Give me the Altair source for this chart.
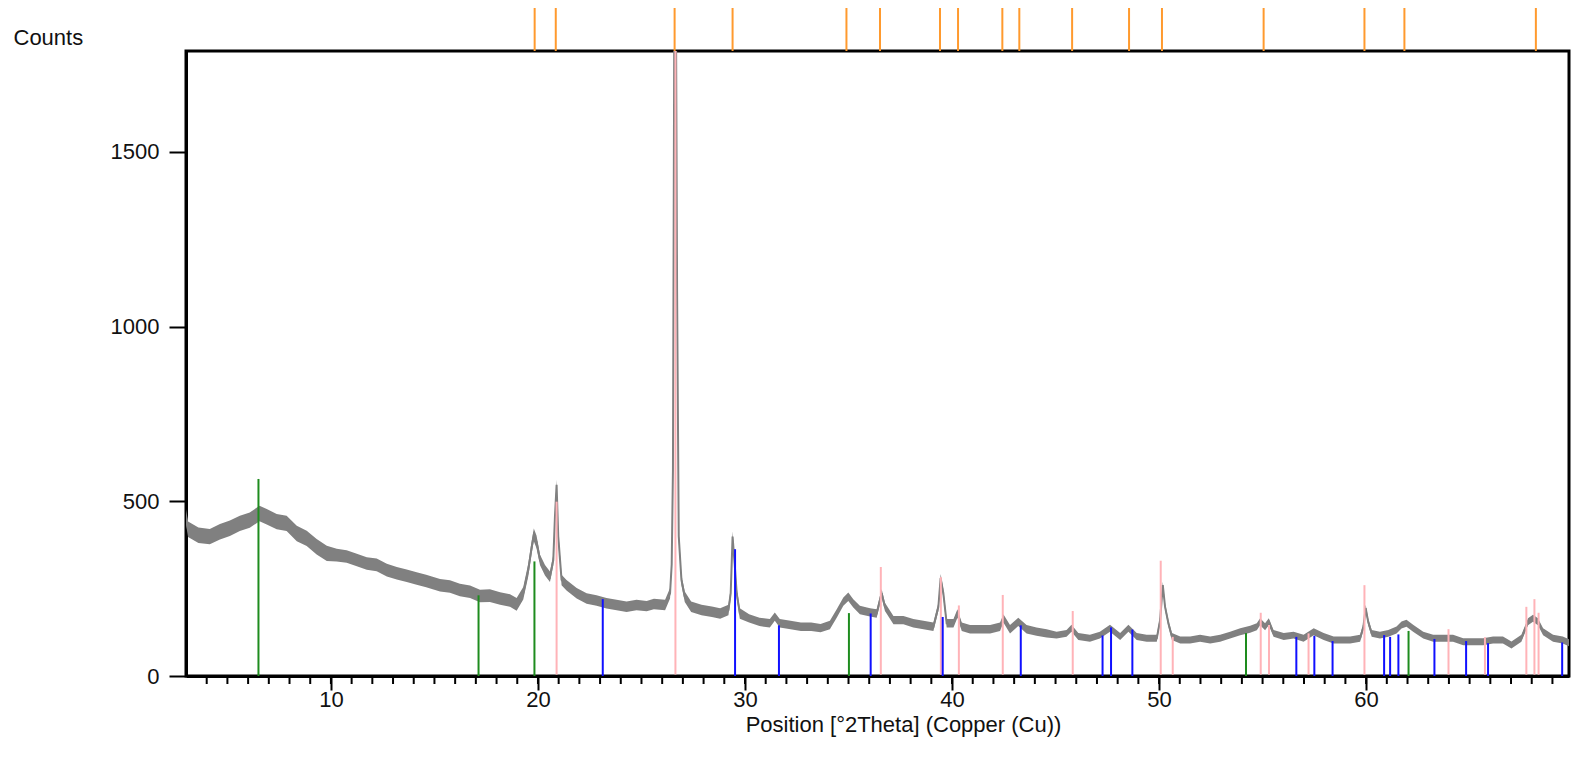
import altair as alt
import pandas as pd

# ---------------- data ----------------
theta = [3.0, 3.1, 3.6, 4.15, 4.64, 5.12, 5.6, 6.08, 6.55, 6.9, 7.38, 7.86, 8.35, 8.83,
         9.31, 9.8, 10.28, 10.76, 11.25, 11.73, 12.21, 12.7, 13.18, 13.66, 14.14, 14.6,
         15.27, 15.75, 16.23, 16.72, 17.2, 17.68, 18.17, 18.65, 18.97, 19.29, 19.53, 19.7,
         19.8, 19.93, 20.1, 20.34, 20.58, 20.74, 20.82, 20.9, 20.98, 21.14, 21.38, 21.87,
         22.35, 22.83, 23.31, 23.8, 24.28, 24.76, 25.25, 25.6, 26.14, 26.38, 26.46, 26.52,
         26.62, 26.72, 26.8, 26.93, 27.09, 27.4, 27.9, 28.4, 28.8, 29.2, 29.31, 29.4, 29.5,
         29.6, 29.75, 30.2, 30.7, 31.2, 31.44, 31.68, 32.2, 32.7, 33.2, 33.65, 34.1, 34.43,
         34.75, 34.99, 35.23, 35.55, 36.04, 36.36, 36.6, 36.76, 37.17, 37.65, 38.13, 38.62,
         39.1, 39.34, 39.45, 39.58, 39.74, 40.07, 40.26, 40.47, 40.87, 41.35, 41.84, 42.32,
         42.48, 42.8, 43.2, 43.6, 44.08, 44.57, 45.05, 45.53, 45.77, 46.1, 46.66, 47.14,
         47.63, 48.12, 48.52, 48.92, 49.4, 49.89, 50.05, 50.18, 50.29, 50.45, 50.62, 51.02,
         51.5, 51.98, 52.47, 52.95, 53.43, 53.92, 54.4, 54.72, 54.88, 55.12, 55.3, 55.53,
         56.02, 56.5, 56.98, 57.47, 57.95, 58.43, 58.74, 59.23, 59.71, 59.87, 59.98, 60.1,
         60.27, 60.67, 61.07, 61.47, 61.71, 61.95, 62.27, 62.76, 63.24, 63.72, 64.2, 64.69,
         65.17, 65.65, 66.13, 66.61, 67.02, 67.5, 67.82, 68.06, 68.3, 68.55, 69.03, 69.5, 69.8]
counts = [455, 420, 403, 399, 413, 423, 437, 446, 465, 456, 442, 437, 408, 394,
          370, 351, 346, 342, 332, 322, 318, 303, 294, 287, 279, 272,
          260, 256, 246, 241, 229, 230, 222, 216, 205, 237, 303, 370,
          404, 384, 332, 303, 284, 332, 456, 547, 399, 275, 260, 237,
          222, 216, 208, 203, 198, 203, 200, 206, 203, 237, 320, 590,
          2600, 1100, 400, 275, 227, 198, 189, 184, 179, 189, 237, 399, 322,
          237, 179, 165, 155, 151, 170, 151, 146, 141, 141, 137, 146, 179,
          213, 227, 208, 189, 182, 179, 237, 198, 160, 160, 151, 146,
          141, 198, 280, 237, 151, 151, 179, 141, 134, 134, 134, 141,
          165, 134, 155, 134, 127, 122, 117, 122, 137, 113, 108, 117,
          137, 113, 137, 113, 108, 108, 160, 260, 198, 151, 113, 103,
          103, 108, 103, 108, 117, 127, 134, 141, 155, 141, 155, 122,
          113, 117, 108, 127, 113, 103, 103, 103, 108, 141, 194, 155,
          122, 117, 122, 132, 146, 151, 137, 117, 108, 108, 108, 98,
          98, 98, 103, 103, 89, 108, 155, 165, 155, 127, 108, 103, 95]

# visible noise half-width of the trace (counts), by region start
noise_start = [3, 10, 20, 30, 45]
noise_half = [22, 18, 15, 12, 10]

green_pos = [6.5, 17.13, 19.83, 35.02, 54.2, 62.05]
green_int = [564, 231, 328, 180, 123, 129]

blue_pos = [23.13, 29.52, 31.64, 36.07, 39.55, 43.32, 47.27, 47.68, 48.71, 56.63, 57.5,
            58.38, 60.87, 61.16, 61.56, 63.3, 64.83, 65.89, 69.47]
blue_int = [220, 363, 145, 179, 169, 145, 116, 139, 133, 112, 115,
            100, 117, 112, 119, 106, 100, 94, 96]

pink_pos = [20.9, 26.64, 36.56, 39.46, 40.33, 42.45, 45.83, 50.08, 50.66, 54.91, 55.31,
            57.22, 59.92, 63.98, 65.74, 67.74, 68.13, 68.33]
pink_int = [499, 2600, 312, 283, 202, 232, 186, 330, 112, 181, 146,
            122, 260, 134, 111, 198, 220, 181]

peak_pos = [19.84, 20.86, 26.6, 29.4, 34.9, 36.52, 39.42, 40.29, 42.43, 43.25, 45.8,
            48.55, 50.14, 55.05, 59.92, 61.85, 68.2]

x_ticks = [10, 20, 30, 40, 50, 60]
x_minor = list(range(4, 70))
y_ticks = [0, 500, 1000, 1500]

# ---------------- tables ----------------
def half_for(t):
    h = noise_half[0]
    for s, v in zip(noise_start, noise_half):
        if t >= s:
            h = v
    return h

pattern = pd.DataFrame({"theta": theta, "counts": counts})
pattern["lo"] = [c - half_for(t) for t, c in zip(theta, counts)]
pattern["hi"] = [c + half_for(t) for t, c in zip(theta, counts)]

green_df = pd.DataFrame({"theta": green_pos, "counts": green_int})
blue_df = pd.DataFrame({"theta": blue_pos, "counts": blue_int})
pink_df = pd.DataFrame({"theta": pink_pos, "counts": pink_int})
peak_df = pd.DataFrame({"theta": peak_pos})
minor_df = pd.DataFrame({"theta": x_minor})

W, H = 1383, 625
xs = alt.Scale(domain=[3.0, 69.8], nice=False, zero=False)
ys = alt.Scale(domain=[0, 1789], nice=False)

x_axis = alt.Axis(values=x_ticks, tickSize=14, labelPadding=-1, format="d",
                  title="Position [°2Theta] (Copper (Cu))",
                  titleX=717, titleY=55, titleAlign="center", titleBaseline="alphabetic")
y_axis = alt.Axis(values=y_ticks, tickSize=17, labelPadding=10, format="d", title="Counts", titleAngle=0,
                  titleX=-173, titleY=-14, titleAlign="left", titleBaseline="middle")

X = alt.X("theta:Q", scale=xs, axis=x_axis)


def Y(field):
    return alt.Y(field, type="quantitative", scale=ys, axis=y_axis)


band = alt.Chart(pattern).mark_area(color="#808080", clip=True).encode(
    x=X, y=Y("lo"), y2="hi:Q",
)
line = alt.Chart(pattern).mark_line(color="#808080", strokeWidth=2, clip=True).encode(
    x=X, y=Y("counts"),
)


def sticks(df, color, base=0):
    return alt.Chart(df).mark_rule(color=color, strokeWidth=2, clip=True).encode(
        x=X, y=Y("counts"), y2=alt.datum(base),
    )


pink = sticks(pink_df, "#ffb3b8", 4)
blue = sticks(blue_df, "#1010ff")
green = sticks(green_df, "#1e8c1e")

minor = alt.Chart(minor_df).mark_rule(color="black", strokeWidth=2).encode(
    x=X, y=alt.value(H), y2=alt.value(H + 8),
)
orange = alt.Chart(peak_df).mark_rule(color="#ff9a2e", strokeWidth=2).encode(
    x=X, y=alt.value(-43), y2=alt.value(0),
)

chart = alt.layer(band, line, pink, blue, green, minor, orange).properties(
    width=W, height=H,
    autosize=alt.AutoSizeParams(type="none"),
    padding={"left": 186, "top": 51, "right": 5, "bottom": 86},
    background="white",
).configure_view(
    stroke="black", strokeWidth=3
).configure_axis(
    labelFont="Liberation Sans", titleFont="Liberation Sans",
    labelFontSize=22, titleFontSize=22, titleFontWeight="normal",
    labelColor="#111111", titleColor="#111111",
    domainColor="black", domainWidth=3, tickColor="black", tickWidth=2,
    grid=False,
)

chart.save("out.html", embed_options={"renderer": "svg", "actions": False})
